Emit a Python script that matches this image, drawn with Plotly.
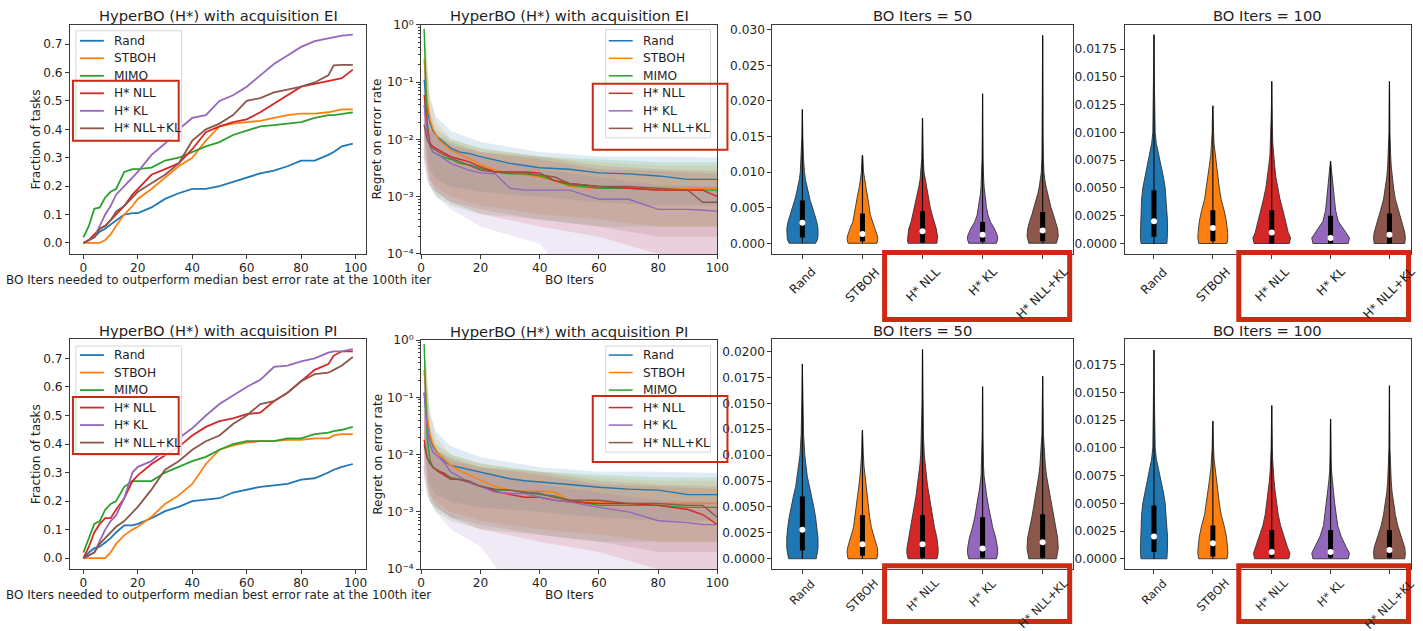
import plotly.graph_objects as go

W, H = 1423, 631
FONT = "DejaVu Sans"
TXT = "#1e1e1e"
# the photographed page comes out slightly shrunk about its centre; positions below are
# given in target-picture pixels and mapped back to page pixels
SX, SY = 0.991, 0.977
CX_PAGE, CX_PIC = 711.5, 708.0
CY = 315.5
FS = 1.015

SERIES = ["Rand", "STBOH", "MIMO", "H* NLL", "H* KL", "H* NLL+KL"]
COLORS = ["#1f77b4", "#ff7f0e", "#2ca02c", "#d62728", "#9467bd", "#8c564b"]
FILLS = ["rgba(31,119,180,0.14)", "rgba(255,127,14,0.14)", "rgba(44,160,44,0.14)",
         "rgba(214,39,40,0.14)", "rgba(148,103,189,0.14)", "rgba(140,86,75,0.14)"]

FRAC_X = [0, 2, 4, 6, 8, 10, 12, 15, 18, 20, 25, 30, 35, 40, 45, 50, 55, 60, 65, 70, 75, 80, 85, 90, 92, 95, 99]
FRAC_EI_RAND = [0, 0.01, 0.02, 0.04, 0.05, 0.065, 0.08, 0.10, 0.105, 0.105, 0.125, 0.155, 0.175, 0.19, 0.19, 0.20, 0.215, 0.23, 0.245, 0.255, 0.27, 0.29, 0.29, 0.31, 0.32, 0.34, 0.35]
FRAC_EI_STBOH = [0, 0, 0, 0, 0.01, 0.03, 0.06, 0.10, 0.13, 0.155, 0.19, 0.23, 0.27, 0.30, 0.36, 0.41, 0.42, 0.425, 0.43, 0.44, 0.45, 0.455, 0.455, 0.46, 0.465, 0.47, 0.47]
FRAC_EI_MIMO = [0.02, 0.06, 0.12, 0.125, 0.16, 0.18, 0.19, 0.25, 0.26, 0.26, 0.265, 0.29, 0.30, 0.32, 0.34, 0.355, 0.38, 0.395, 0.41, 0.415, 0.42, 0.425, 0.44, 0.45, 0.45, 0.455, 0.46]
FRAC_EI_NLL = [0, 0.01, 0.03, 0.05, 0.06, 0.08, 0.10, 0.13, 0.17, 0.19, 0.24, 0.26, 0.28, 0.33, 0.39, 0.41, 0.425, 0.435, 0.46, 0.49, 0.52, 0.55, 0.56, 0.57, 0.575, 0.58, 0.61]
FRAC_EI_KL = [0, 0.01, 0.02, 0.06, 0.10, 0.13, 0.17, 0.20, 0.23, 0.25, 0.31, 0.35, 0.40, 0.44, 0.45, 0.50, 0.52, 0.55, 0.59, 0.63, 0.66, 0.69, 0.71, 0.72, 0.725, 0.73, 0.733]
FRAC_EI_NLLKL = [0, 0.01, 0.02, 0.05, 0.06, 0.08, 0.11, 0.13, 0.16, 0.18, 0.21, 0.24, 0.28, 0.36, 0.40, 0.42, 0.45, 0.50, 0.51, 0.53, 0.54, 0.55, 0.565, 0.59, 0.625, 0.627, 0.627]

FRAC_PI_RAND = [0, 0.02, 0.035, 0.04, 0.055, 0.07, 0.09, 0.115, 0.115, 0.12, 0.14, 0.165, 0.18, 0.20, 0.205, 0.21, 0.23, 0.24, 0.25, 0.255, 0.26, 0.275, 0.28, 0.30, 0.31, 0.32, 0.33]
FRAC_PI_STBOH = [0, 0, 0, 0, 0, 0.02, 0.05, 0.08, 0.10, 0.11, 0.145, 0.19, 0.22, 0.26, 0.33, 0.38, 0.395, 0.405, 0.41, 0.41, 0.415, 0.415, 0.42, 0.42, 0.43, 0.435, 0.435]
FRAC_PI_MIMO = [0.02, 0.07, 0.12, 0.13, 0.17, 0.19, 0.20, 0.25, 0.27, 0.27, 0.27, 0.30, 0.32, 0.34, 0.355, 0.38, 0.40, 0.41, 0.41, 0.41, 0.42, 0.42, 0.435, 0.44, 0.445, 0.45, 0.46]
FRAC_PI_NLL = [0, 0.04, 0.09, 0.12, 0.14, 0.14, 0.17, 0.21, 0.27, 0.29, 0.33, 0.36, 0.39, 0.43, 0.46, 0.48, 0.49, 0.505, 0.51, 0.55, 0.58, 0.62, 0.66, 0.68, 0.71, 0.725, 0.725]
FRAC_PI_KL = [0, 0.01, 0.02, 0.06, 0.10, 0.13, 0.15, 0.21, 0.30, 0.32, 0.34, 0.38, 0.42, 0.455, 0.50, 0.54, 0.57, 0.60, 0.625, 0.67, 0.675, 0.69, 0.70, 0.72, 0.725, 0.725, 0.733]
FRAC_PI_NLLKL = [0, 0.01, 0.02, 0.05, 0.07, 0.09, 0.11, 0.13, 0.16, 0.18, 0.24, 0.31, 0.34, 0.38, 0.41, 0.43, 0.47, 0.50, 0.54, 0.55, 0.58, 0.62, 0.645, 0.65, 0.66, 0.675, 0.705]

REG_X = [1, 2, 3, 4, 6, 8, 10, 13, 16, 20, 25, 30, 35, 40, 45, 50, 60, 70, 80, 90, 95, 100]
REG_EI_RAND = [0.11, 0.033, 0.019, 0.014, 0.0104, 0.0086, 0.007, 0.006, 0.0057, 0.005, 0.0044, 0.0038, 0.0035, 0.0032, 0.0031, 0.003, 0.0026, 0.0025, 0.0023, 0.002, 0.002, 0.002]
REG_EI_STBOH = [0.25, 0.05, 0.022, 0.015, 0.0098, 0.008, 0.0065, 0.0055, 0.0047, 0.0036, 0.0029, 0.0026, 0.0024, 0.0022, 0.0019, 0.0015, 0.0014, 0.0014, 0.0014, 0.0014, 0.0014, 0.0014]
REG_EI_MIMO = [0.85, 0.02, 0.0075, 0.006, 0.0053, 0.0048, 0.0045, 0.0038, 0.0036, 0.0031, 0.0027, 0.0025, 0.0025, 0.0023, 0.0019, 0.0016, 0.0014, 0.0014, 0.0013, 0.0013, 0.0013, 0.0013]
REG_EI_NLL = [0.06, 0.017, 0.0086, 0.0075, 0.0065, 0.0057, 0.005, 0.0045, 0.0041, 0.0033, 0.0027, 0.0027, 0.0027, 0.0026, 0.0019, 0.0017, 0.0015, 0.0014, 0.0013, 0.0013, 0.0013, 0.001]
REG_EI_KL = [0.04, 0.013, 0.0075, 0.006, 0.0053, 0.0045, 0.0038, 0.0033, 0.0029, 0.0026, 0.0025, 0.0014, 0.0013, 0.0013, 0.0013, 0.0013, 0.0009, 0.0009, 0.0006, 0.0006, 0.00058, 0.00056]
REG_EI_NLLKL = [0.018, 0.0098, 0.008, 0.007, 0.006, 0.0053, 0.0047, 0.0041, 0.0036, 0.0029, 0.0027, 0.0026, 0.0026, 0.0024, 0.0022, 0.0017, 0.0015, 0.0015, 0.0014, 0.0013, 0.0008, 0.0008]

REG_PI_RAND = [0.12, 0.035, 0.02, 0.014, 0.01, 0.0075, 0.0065, 0.006, 0.0055, 0.005, 0.0043, 0.0038, 0.0035, 0.0033, 0.0031, 0.003, 0.0027, 0.0025, 0.0024, 0.002, 0.002, 0.002]
REG_PI_STBOH = [0.3, 0.05, 0.022, 0.015, 0.01, 0.008, 0.0065, 0.0052, 0.0045, 0.0036, 0.0028, 0.0024, 0.0023, 0.0023, 0.0022, 0.0016, 0.0015, 0.0014, 0.0014, 0.0014, 0.0014, 0.0014]
REG_PI_MIMO = [0.85, 0.02, 0.008, 0.006, 0.005, 0.0045, 0.004, 0.0037, 0.0033, 0.0028, 0.0024, 0.0024, 0.0022, 0.002, 0.0019, 0.0016, 0.0013, 0.0013, 0.0013, 0.0012, 0.0012, 0.0012]
REG_PI_NLL = [0.018, 0.009, 0.007, 0.006, 0.005, 0.0043, 0.0037, 0.0037, 0.0033, 0.0028, 0.0023, 0.002, 0.0018, 0.0018, 0.0016, 0.0015, 0.0014, 0.0014, 0.0013, 0.0011, 0.0009, 0.0006]
REG_PI_KL = [0.12, 0.03, 0.015, 0.011, 0.009, 0.007, 0.005, 0.004, 0.0033, 0.0028, 0.0022, 0.0021, 0.0021, 0.0018, 0.0016, 0.0015, 0.0012, 0.001, 0.0007, 0.00065, 0.0006, 0.0006]
REG_PI_NLLKL = [0.015, 0.009, 0.007, 0.006, 0.0052, 0.0047, 0.0038, 0.0037, 0.0035, 0.0028, 0.0025, 0.0024, 0.0022, 0.0021, 0.0018, 0.0016, 0.0016, 0.0014, 0.0014, 0.0013, 0.0013, 0.0008]

BAND_X = [1, 2, 3, 5, 10, 20, 40, 60, 80, 100]
BAND_UP_RAND = [0.9, 0.15, 0.05, 0.025, 0.014, 0.009, 0.006, 0.005, 0.005, 0.0048]
BAND_UP_STBOH = [0.9, 0.2, 0.06, 0.02, 0.01, 0.007, 0.005, 0.004, 0.0035, 0.0035]
BAND_UP_MIMO = [0.9, 0.3, 0.03, 0.015, 0.01, 0.007, 0.005, 0.0045, 0.004, 0.004]
BAND_UP_NLL = [0.3, 0.06, 0.02, 0.012, 0.008, 0.006, 0.0045, 0.003, 0.0028, 0.0025]
BAND_UP_KL = [0.2, 0.04, 0.02, 0.012, 0.007, 0.005, 0.003, 0.0022, 0.0016, 0.0015]
BAND_UP_NLLKL = [0.06, 0.02, 0.015, 0.012, 0.009, 0.006, 0.005, 0.0035, 0.003, 0.0028]
BAND_LO_RAND = [0.01, 0.005, 0.003, 0.002, 0.0015, 0.0012, 0.001, 0.0008, 0.0007, 0.0007]
BAND_LO_STBOH = [0.02, 0.004, 0.002, 0.0015, 0.001, 0.0007, 0.0005, 0.0004, 0.0003, 0.0003]
BAND_LO_MIMO = [0.1, 0.003, 0.0015, 0.001, 0.0007, 0.0005, 0.0004, 0.0003, 0.0003, 0.0003]
BAND_LO_NLL = [0.005, 0.003, 0.002, 0.0012, 0.0008, 0.0005, 0.0003, 0.0002, 0.0001, 0.00005]
BAND_LO_KL_EI = [0.005, 0.002, 0.0015, 0.001, 0.0006, 0.0003, 0.00015, 0.00001, 0.00001, 0.00001]
BAND_LO_KL_PI = [0.005, 0.002, 0.0015, 0.001, 0.0005, 0.00025, 0.00001, 0.00001, 0.00001, 0.00001]
BAND_LO_NLLKL = [0.004, 0.002, 0.0015, 0.0012, 0.0008, 0.0006, 0.0004, 0.0003, 0.0002, 0.0002]
REG_TICK_TEXT = ["10\u207b\u2074", "10\u207b\u00b3", "10\u207b\u00b2", "10\u207b\u00b9", "10\u2070"]

VIOLIN_NAMES = ["Rand", "STBOH", "H* NLL", "H* KL", "H* NLL+KL"]
VIOLIN_COLORS = ["#1f77b4", "#ff7f0e", "#d62728", "#9467bd", "#8c564b"]
VIOLIN_LEVELS = [0, 0.0005, 0.001, 0.002, 0.003, 0.004, 0.005, 0.006, 0.007, 0.008, 0.009, 0.010, 0.012, 0.015]

EI50_TOP = [0.0188, 0.0124, 0.0176, 0.021, 0.0292]
EI50_Q1 = [0.0008, 0.0003, 0.0001, 0.0002, 0.0003]
EI50_MED = [0.0029, 0.0013, 0.0017, 0.0012, 0.0018]
EI50_Q3 = [0.006, 0.0042, 0.0045, 0.003, 0.0044]
EI50_RAND_W = [0.22, 0.25, 0.26, 0.26, 0.24, 0.21, 0.17, 0.13, 0.10, 0.07, 0.05, 0.035, 0.018, 0.008]
EI50_STBOH_W = [0.24, 0.255, 0.25, 0.21, 0.16, 0.13, 0.115, 0.095, 0.075, 0.05, 0.03, 0.018, 0.006, 0.0]
EI50_NLL_W = [0.24, 0.25, 0.25, 0.23, 0.19, 0.16, 0.13, 0.11, 0.085, 0.06, 0.04, 0.025, 0.012, 0.006]
EI50_KL_W = [0.23, 0.25, 0.25, 0.20, 0.13, 0.09, 0.065, 0.05, 0.035, 0.025, 0.018, 0.012, 0.008, 0.005]
EI50_NLLKL_W = [0.23, 0.25, 0.26, 0.25, 0.22, 0.18, 0.14, 0.11, 0.08, 0.055, 0.035, 0.022, 0.012, 0.007]

EI100_TOP = [0.0188, 0.0124, 0.0146, 0.0074, 0.0146]
EI100_Q1 = [0.0006, 0.0002, 0.0, 0.0, 0.0]
EI100_MED = [0.002, 0.0014, 0.001, 0.0005, 0.0008]
EI100_Q3 = [0.0048, 0.003, 0.003, 0.0025, 0.0027]
EI100_RAND_W = [0.22, 0.23, 0.23, 0.23, 0.22, 0.21, 0.19, 0.16, 0.12, 0.08, 0.04, 0.02, 0.01, 0.005]
EI100_STBOH_W = [0.24, 0.255, 0.25, 0.23, 0.19, 0.14, 0.11, 0.085, 0.06, 0.035, 0.02, 0.012, 0.005, 0.0]
EI100_NLL_W = [0.30, 0.32, 0.28, 0.24, 0.19, 0.14, 0.10, 0.07, 0.05, 0.03, 0.018, 0.012, 0.006, 0.0]
EI100_KL_W = [0.30, 0.32, 0.26, 0.13, 0.085, 0.065, 0.05, 0.03, 0.01, 0, 0, 0, 0, 0]
EI100_NLLKL_W = [0.26, 0.27, 0.26, 0.21, 0.15, 0.10, 0.07, 0.045, 0.03, 0.02, 0.012, 0.008, 0.005, 0.0]

PI50_TOP = [0.0188, 0.0124, 0.0202, 0.0166, 0.0176]
PI50_Q1 = [0.0008, 0.0003, 0.0001, 0.0001, 0.0001]
PI50_MED = [0.0028, 0.0014, 0.0014, 0.001, 0.0016]
PI50_Q3 = [0.006, 0.0042, 0.0042, 0.004, 0.0043]
PI50_RAND_W = [0.23, 0.25, 0.26, 0.26, 0.245, 0.22, 0.19, 0.15, 0.11, 0.08, 0.06, 0.04, 0.02, 0.01]
PI50_STBOH_W = [0.24, 0.255, 0.25, 0.20, 0.15, 0.12, 0.10, 0.08, 0.06, 0.04, 0.025, 0.015, 0.005, 0.0]
PI50_NLL_W = [0.24, 0.26, 0.26, 0.24, 0.20, 0.17, 0.14, 0.11, 0.085, 0.065, 0.045, 0.03, 0.015, 0.008]
PI50_KL_W = [0.23, 0.25, 0.25, 0.22, 0.17, 0.13, 0.10, 0.07, 0.045, 0.025, 0.015, 0.01, 0.006, 0.003]
PI50_NLLKL_W = [0.23, 0.25, 0.26, 0.25, 0.22, 0.18, 0.15, 0.12, 0.09, 0.065, 0.045, 0.03, 0.012, 0.006]

PI100_TOP = [0.0188, 0.0124, 0.0138, 0.0126, 0.0156]
PI100_Q1 = [0.0006, 0.0002, 0.0001, 0.0001, 0.0001]
PI100_MED = [0.002, 0.0014, 0.0006, 0.0006, 0.0008]
PI100_Q3 = [0.0048, 0.003, 0.0026, 0.0026, 0.0026]
PI100_RAND_W = [0.22, 0.23, 0.23, 0.23, 0.22, 0.21, 0.19, 0.16, 0.12, 0.08, 0.04, 0.02, 0.01, 0.005]
PI100_STBOH_W = [0.24, 0.255, 0.25, 0.23, 0.19, 0.14, 0.11, 0.085, 0.06, 0.035, 0.02, 0.012, 0.005, 0.0]
PI100_NLL_W = [0.29, 0.31, 0.27, 0.21, 0.15, 0.11, 0.08, 0.06, 0.04, 0.025, 0.015, 0.01, 0.005, 0.0]
PI100_KL_W = [0.30, 0.32, 0.27, 0.18, 0.12, 0.09, 0.07, 0.05, 0.03, 0.015, 0.01, 0.007, 0.004, 0.0]
PI100_NLLKL_W = [0.26, 0.27, 0.26, 0.20, 0.14, 0.10, 0.07, 0.045, 0.03, 0.02, 0.012, 0.008, 0.005, 0.003]


def page_x(p):
    return CX_PAGE + (p - CX_PIC) / SX


def page_y(p):
    return CY + (p - CY) / SY


def fx(p):
    return page_x(p) / W


def fy(p):
    return 1 - page_y(p) / H


def clamp01(v):
    return max(0.0, min(1.0, v))


PANELS = {
    1: (69, 366, 25, 254), 2: (421, 718, 25, 254), 3: (773, 1074, 25, 254), 4: (1126, 1421, 25, 254),
    5: (69, 366, 339, 569), 6: (421, 718, 340, 569), 7: (773, 1074, 339, 569), 8: (1126, 1421, 339, 569),
}

fig = go.Figure()


def axn(i):
    return ("x" if i == 1 else "x%d" % i), ("y" if i == 1 else "y%d" % i)


AX = dict(showline=True, mirror=True, linecolor="#3a3a3a", linewidth=1, ticks="outside", ticklen=4,
          tickwidth=1, tickcolor="#3a3a3a", showgrid=False, zeroline=False,
          tickfont=dict(family=FONT, size=12 * FS, color=TXT))

layout_axes = {}
for i, (x0, x1, y0, y1) in PANELS.items():
    xa, ya = axn(i)
    layout_axes["xaxis" + ("" if i == 1 else str(i))] = dict(domain=[clamp01(fx(x0)), clamp01(fx(x1))], anchor=ya,
                                                              ticklabelstandoff=-2, **AX)
    layout_axes["yaxis" + ("" if i == 1 else str(i))] = dict(domain=[clamp01(fy(y1)), clamp01(fy(y0))], anchor=xa,
                                                              **AX)

FRAC_EI = [FRAC_EI_RAND, FRAC_EI_STBOH, FRAC_EI_MIMO, FRAC_EI_NLL, FRAC_EI_KL, FRAC_EI_NLLKL]
FRAC_PI = [FRAC_PI_RAND, FRAC_PI_STBOH, FRAC_PI_MIMO, FRAC_PI_NLL, FRAC_PI_KL, FRAC_PI_NLLKL]
for pi, data in ((1, FRAC_EI), (5, FRAC_PI)):
    xa, ya = axn(pi)
    for k, ys in enumerate(data):
        fig.add_trace(go.Scatter(x=FRAC_X, y=ys, mode="lines", name=SERIES[k],
                                 line=dict(color=COLORS[k], width=1.8), xaxis=xa, yaxis=ya,
                                 showlegend=False, hoverinfo="skip"))

REG_EI = [REG_EI_RAND, REG_EI_STBOH, REG_EI_MIMO, REG_EI_NLL, REG_EI_KL, REG_EI_NLLKL]
REG_PI = [REG_PI_RAND, REG_PI_STBOH, REG_PI_MIMO, REG_PI_NLL, REG_PI_KL, REG_PI_NLLKL]
UPS = [BAND_UP_RAND, BAND_UP_STBOH, BAND_UP_MIMO, BAND_UP_NLL, BAND_UP_KL, BAND_UP_NLLKL]
LOS_EI = [BAND_LO_RAND, BAND_LO_STBOH, BAND_LO_MIMO, BAND_LO_NLL, BAND_LO_KL_EI, BAND_LO_NLLKL]
LOS_PI = [BAND_LO_RAND, BAND_LO_STBOH, BAND_LO_MIMO, BAND_LO_NLL, BAND_LO_KL_PI, BAND_LO_NLLKL]
for pi, data, los in ((2, REG_EI, LOS_EI), (6, REG_PI, LOS_PI)):
    xa, ya = axn(pi)
    for k in range(6):
        fig.add_trace(go.Scatter(x=BAND_X + BAND_X[::-1], y=UPS[k] + los[k][::-1], mode="lines",
                                 fill="toself", fillcolor=FILLS[k], line=dict(width=0),
                                 xaxis=xa, yaxis=ya, showlegend=False, hoverinfo="skip"))
    for k in range(6):
        fig.add_trace(go.Scatter(x=REG_X, y=data[k], mode="lines", name=SERIES[k],
                                 line=dict(color=COLORS[k], width=1.4), xaxis=xa, yaxis=ya,
                                 showlegend=False, hoverinfo="skip"))

VIOLIN_PANELS = [
    (3, [EI50_RAND_W, EI50_STBOH_W, EI50_NLL_W, EI50_KL_W, EI50_NLLKL_W], EI50_TOP, EI50_Q1, EI50_MED, EI50_Q3),
    (4, [EI100_RAND_W, EI100_STBOH_W, EI100_NLL_W, EI100_KL_W, EI100_NLLKL_W], EI100_TOP, EI100_Q1, EI100_MED, EI100_Q3),
    (7, [PI50_RAND_W, PI50_STBOH_W, PI50_NLL_W, PI50_KL_W, PI50_NLLKL_W], PI50_TOP, PI50_Q1, PI50_MED, PI50_Q3),
    (8, [PI100_RAND_W, PI100_STBOH_W, PI100_NLL_W, PI100_KL_W, PI100_NLLKL_W], PI100_TOP, PI100_Q1, PI100_MED, PI100_Q3),
]
for pi, widths, tops, q1s, meds, q3s in VIOLIN_PANELS:
    xa, ya = axn(pi)
    for k in range(5):
        c = k + 1
        lv = [(l, w) for l, w in zip(VIOLIN_LEVELS, widths[k]) if l < tops[k]]
        ys = [l for l, _ in lv] + [tops[k]] + [l for l, _ in reversed(lv)]
        xs = [c + w for _, w in lv] + [c] + [c - w for _, w in reversed(lv)]
        xs.append(xs[0])
        ys.append(ys[0])
        fig.add_trace(go.Scatter(x=xs, y=ys, mode="lines", fill="toself", fillcolor=VIOLIN_COLORS[k],
                                 line=dict(color="#333333", width=0.9), xaxis=xa, yaxis=ya,
                                 showlegend=False, hoverinfo="skip"))
        fig.add_trace(go.Scatter(x=[c, c], y=[0, tops[k]], mode="lines", line=dict(color="#111111", width=1.2),
                                 xaxis=xa, yaxis=ya, showlegend=False, hoverinfo="skip"))
        fig.add_trace(go.Scatter(x=[c, c], y=[q1s[k], q3s[k]], mode="lines", line=dict(color="#000000", width=5),
                                 xaxis=xa, yaxis=ya, showlegend=False, hoverinfo="skip"))
        fig.add_trace(go.Scatter(x=[c], y=[meds[k]], mode="markers",
                                 marker=dict(color="white", size=6, line=dict(width=0)),
                                 xaxis=xa, yaxis=ya, showlegend=False, hoverinfo="skip"))

for i in (1, 5):
    layout_axes["xaxis" + ("" if i == 1 else str(i))].update(range=[-4.95, 103.95], tickvals=[0, 20, 40, 60, 80, 100])
    layout_axes["yaxis" + ("" if i == 1 else str(i))].update(range=[-0.0387, 0.768],
                                                              tickvals=[0, 0.1, 0.2, 0.3, 0.4, 0.5, 0.6, 0.7],
                                                              tickformat=".1f")
for i in (2, 6):
    layout_axes["xaxis%d" % i].update(range=[0, 100], tickvals=[0, 20, 40, 60, 80, 100])
    layout_axes["yaxis%d" % i].update(type="log", range=[-4, 0], tickvals=[1e-4, 1e-3, 1e-2, 1e-1, 1],
                                      ticktext=REG_TICK_TEXT,
                                      minor=dict(ticks="outside", ticklen=2, tickcolor="#3a3a3a", dtick="D1",
                                                 showgrid=False))
# right panels: the last 7 target pixels cannot be reached, so extend the range to keep violins in place
P4_RIGHT = (W - CX_PAGE) * SX + CX_PIC
for i in (3, 4, 7, 8):
    x0, x1, y0, y1 = PANELS[i]
    hi = 5.5
    if fx(x1) > 1:
        hi = 0.5 + 5.0 * (P4_RIGHT - x0) / (x1 - x0)
    layout_axes["xaxis%d" % i].update(range=[0.5, hi], tickvals=[1, 2, 3, 4, 5], showticklabels=False)
layout_axes["yaxis3"].update(range=[-0.0015, 0.0307], tickvals=[0, 0.005, 0.01, 0.015, 0.02, 0.025, 0.03],
                             tickformat=".3f")
layout_axes["yaxis4"].update(range=[-0.00094, 0.0197],
                             tickvals=[0, 0.0025, 0.005, 0.0075, 0.01, 0.0125, 0.015, 0.0175], tickformat=".4f")
layout_axes["yaxis7"].update(range=[-0.00101, 0.0212],
                             tickvals=[0, 0.0025, 0.005, 0.0075, 0.01, 0.0125, 0.015, 0.0175, 0.02], tickformat=".4f")
layout_axes["yaxis8"].update(range=[-0.00094, 0.0198],
                             tickvals=[0, 0.0025, 0.005, 0.0075, 0.01, 0.0125, 0.015, 0.0175], tickformat=".4f")

annotations = []
shapes = []


def text(x, y, s, size=12, angle=0, xanchor="center", yanchor="middle"):
    annotations.append(dict(x=fx(x), y=fy(y), xref="paper", yref="paper", text=s, showarrow=False,
                            xanchor=xanchor, yanchor=yanchor, textangle=angle,
                            font=dict(family=FONT, size=size * FS, color=TXT)))


TITLE_EI = "HyperBO (H*) with acquisition EI"
TITLE_PI = "HyperBO (H*) with acquisition PI"
for i, t in ((1, TITLE_EI), (2, TITLE_EI), (3, "BO Iters = 50"), (4, "BO Iters = 100"),
             (5, TITLE_PI), (6, TITLE_PI), (7, "BO Iters = 50"), (8, "BO Iters = 100")):
    x0, x1, y0, y1 = PANELS[i]
    text((x0 + min(x1, P4_RIGHT)) / 2 if i in (4, 8) else (x0 + x1) / 2, y0 - 9, t, size=14.5)

XLAB1 = "BO Iters needed to outperform median best error rate at the 100th iter"
for i in (1, 5):
    x0, x1, y0, y1 = PANELS[i]
    text((x0 + x1) / 2, y1 + 26, XLAB1, size=11.8)
    text(35, (y0 + y1) / 2, "Fraction of tasks", angle=-90)
for i in (2, 6):
    x0, x1, y0, y1 = PANELS[i]
    text((x0 + x1) / 2, y1 + 26, "BO Iters")
    text(377, (y0 + y1) / 2, "Regret on error rate", angle=-90)

for i in (3, 4, 7, 8):
    xa, ya = axn(i)
    x0, x1, y0, y1 = PANELS[i]
    gap = 8 if i in (3, 4) else 4
    size = 12 if i in (3, 4) else 11.4
    for k, name in enumerate(VIOLIN_NAMES):
        annotations.append(dict(x=k + 1, y=fy(y1 + gap), xref=xa, yref="paper", text=name, showarrow=False,
                                xanchor="center", yanchor="top", textangle=-45,
                                font=dict(family=FONT, size=size * FS, color=TXT)))

LEGENDS = [(75, 181, 31, 141, 79, 41, 1.8), (606, 711, 30, 138, 609, 41, 1.5),
           (75, 181, 346, 455, 79, 355, 1.8), (606, 711, 346, 452, 609, 355, 1.5)]
for bx0, bx1, by0, by1, lx, ly, lw in LEGENDS:
    shapes.append(dict(type="rect", xref="paper", yref="paper", x0=fx(bx0), x1=fx(bx1), y0=fy(by1), y1=fy(by0),
                       fillcolor="rgba(255,255,255,0.85)", line=dict(color="#d6d6d6", width=1), layer="above"))
    for k, name in enumerate(SERIES):
        yy = ly + 17.5 * k
        shapes.append(dict(type="line", xref="paper", yref="paper", x0=fx(lx), x1=fx(lx + 24), y0=fy(yy), y1=fy(yy),
                           line=dict(color=COLORS[k], width=lw), layer="above"))
        text(lx + 32, yy, name, xanchor="left")

RED = "#cc2a12"
for rx0, rx1, ry0, ry1 in ((72, 178, 81, 141), (593, 728, 84, 150), (72, 178, 397, 454), (593, 728, 396, 462)):
    shapes.append(dict(type="rect", xref="paper", yref="paper", x0=fx(rx0), x1=fx(rx1), y0=fy(ry1), y1=fy(ry0),
                       line=dict(color=RED, width=2), layer="above"))
for rx0, rx1, ry0, ry1 in ((885.5, 1071, 252.5, 319.5), (1240.5, 1422, 252.5, 319.5),
                           (885.5, 1071, 565.5, 628), (1240.5, 1422, 565.5, 628)):
    shapes.append(dict(type="rect", xref="paper", yref="paper", x0=fx(rx0), x1=min(fx(rx1), 1420.5 / W),
                       y0=max(fy(ry1), 2.5 / H), y1=fy(ry0),
                       line=dict(color=RED, width=5), layer="above"))

fig.update_layout(width=W, height=H, margin=dict(l=0, r=0, t=0, b=0), plot_bgcolor="white",
                  paper_bgcolor="white", showlegend=False, annotations=annotations, shapes=shapes,
                  font=dict(family=FONT, color=TXT), **layout_axes)

PAGE_JS = ("var e=[document.documentElement,document.body];"
           "for(var i=0;i<e.length;i++){var s=e[i].style;s.margin='0px';s.padding='0px';"
           "s.overflow='hidden';s.width='1423px';s.height='631px';}")
fig.write_html("out.html", config={"displayModeBar": False}, post_script=PAGE_JS)
